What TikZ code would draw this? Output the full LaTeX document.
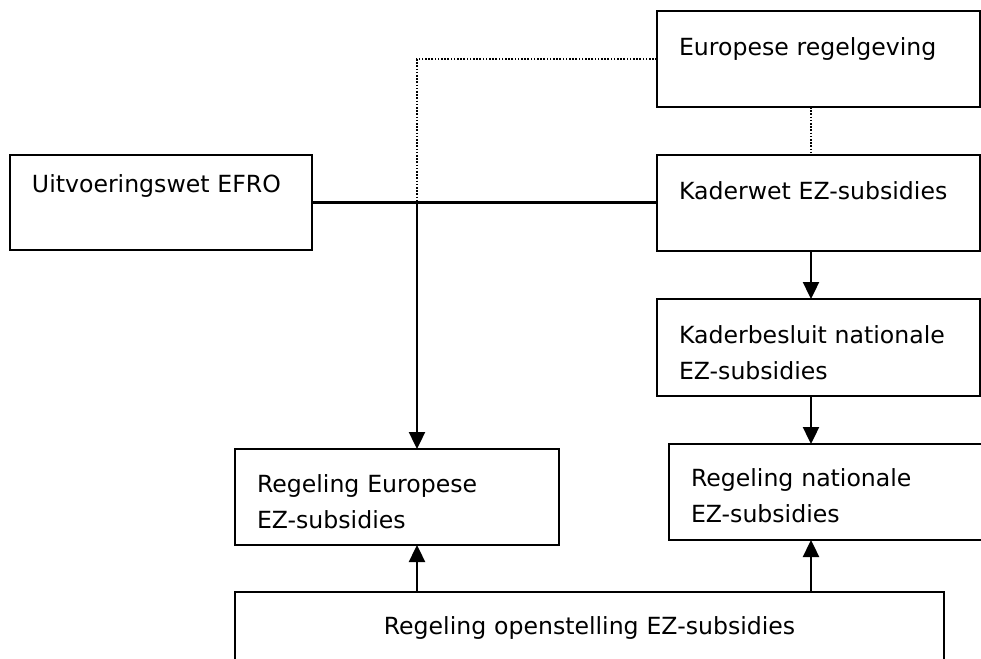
\documentclass[tikz,border=0pt]{standalone}
\usepackage{fontspec}
\setmainfont{DejaVu Sans}
\usetikzlibrary{arrows.meta}

\begin{document}
\begin{tikzpicture}[x=0.5pt, y=-0.5pt,
  box/.style={draw, line width=1.2pt, anchor=north west, outer sep=0pt,
    inner xsep=11pt, inner ysep=0pt, align=left,
    font=\fontsize{11.8pt}{18.3pt}\selectfont,
    text height=22pt, text depth=26pt, text width=139.5pt},
  arr/.style={line width=1.2pt, -{Triangle[length=8.5pt, width=8pt]}},
  dotline/.style={line width=1pt, dash pattern=on 0.8pt off 0.8pt}]

  \useasboundingbox (0,0) rectangle (981,659);
  \clip (0,0) rectangle (981,659);

  \node[box] (eur) at (657,11) {Europese regelgeving};
  \node[box] (kw) at (657,155) {Kaderwet EZ-subsidies};
  \node[box, text width=129pt, text height=18.5pt, text depth=29pt] (uw) at (10,155) {Uitvoeringswet EFRO};
  \node[box, text depth=26.5pt] (kb) at (657,299) {Kaderbesluit nationale\\EZ-subsidies};
  \node[box, text width=148pt, text height=21pt, text depth=27pt] (ren) at (669,444) {Regeling nationale\\EZ-subsidies};
  \node[box, text width=140pt, text height=21.5pt, text depth=26.5pt] (ree) at (235,449) {Regeling Europese\\EZ-subsidies};
  \node[box, align=center, text width=332.5pt, text height=21pt, text depth=27pt] (ro) at (235,592) {Regeling openstelling EZ-subsidies};

  \coordinate (jn) at (417,0);
  \coordinate (sp) at (811,0);

  \draw[line width=1.2pt] (uw.east) -- (uw.east -| kw.west); %% EFRO -- Kaderwet
  \draw[dotline] (eur.west) -| (jn |- uw.east);
  \draw[dotline] (sp |- eur.south) -- (sp |- kw.north);

  \draw[arr] (jn |- uw.east) -- (jn |- ree.north);
  \draw[arr] (sp |- kw.south) -- (sp |- kb.north); %% kw->kb
  \draw[arr] (sp |- kb.south) -- (sp |- ren.north); %% kb->ren
  \draw[arr] (sp |- ro.north) -- (sp |- ren.south);
  \draw[arr] (jn |- ro.north) -- (jn |- ree.south);
\end{tikzpicture}
\end{document}
